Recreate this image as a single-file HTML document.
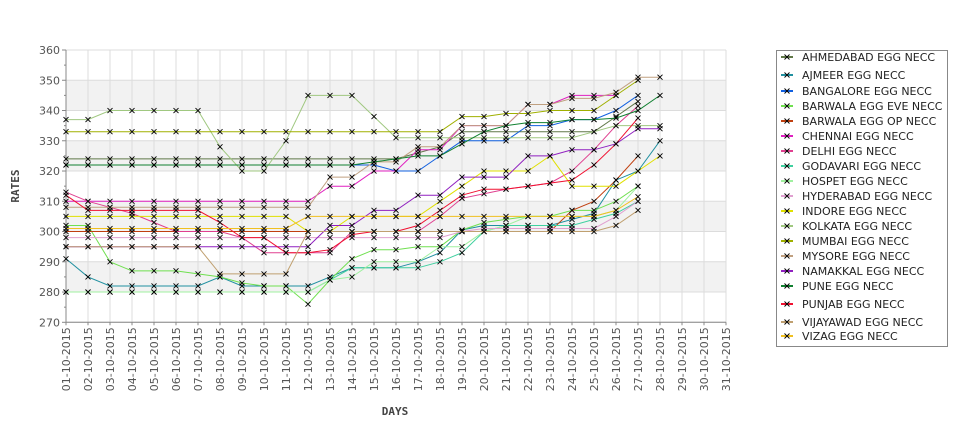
<!DOCTYPE html>
<html><head><meta charset="utf-8"><style>
body{margin:0;background:#fff;}
svg{display:block;font-family:"DejaVu Sans","Liberation Sans",sans-serif;}
</style></head><body>
<svg id="chart" width="975" height="429" viewBox="0 0 975 429"></svg>
<script>
const days = [];
for (let d = 1; d <= 31; d++) days.push((d < 10 ? '0' : '') + d + '-10-2015');
const yTicks = [270,280,290,300,310,320,330,340,350,360];
const seriesNames = ["AHMEDABAD EGG NECC","AJMEER EGG NECC","BANGALORE EGG NECC","BARWALA EGG EVE NECC","BARWALA EGG OP NECC","CHENNAI EGG NECC","DELHI EGG NECC","GODAVARI EGG NECC","HOSPET EGG NECC","HYDERABAD EGG NECC","INDORE EGG NECC","KOLKATA EGG NECC","MUMBAI EGG NECC","MYSORE EGG NECC","NAMAKKAL EGG NECC","PUNE EGG NECC","PUNJAB EGG NECC","VIJAYAWAD EGG NECC","VIZAG EGG NECC"];
const seriesColors = ["#607848","#2090a0","#1060e0","#70e050","#c04010","#e020c0","#e04090","#40d0a0","#a0f0a0","#e0a0d0","#e0e000","#a0c880","#a0b000","#c0a080","#9020c0","#108030","#f01030","#c0a070","#f0c020"];
const ahmedabad = [324,324,324,324,324,324,324,324,324,324,324,324,324,324,324,324,326,328,333,333,333,333,333,333,333,338,343];
const ajmeer = [291,285,282,282,282,282,282,285,282,282,282,282,285,288,288,288,290,293,300.5,302,302,302,302,304,306,317,320,330];
const bangalore = [322,322,322,322,322,322,322,322,322,322,322,322,322,322,322,320,320,325,330,330,330,335,335,337,337,340,345];
const barwalaEve = [302,302,290,287,287,287,286,285,283,282,282,276,284,291,294,294,295,295,300.5,303,304,305,305,307,307,310,315];
const barwalaOp = [300,300,300,300,300,300,300,300,300,300,300,300,300,300,300,300,300,300,300,300,300,300,300,307,310,317,325];
const chennai = [310,310,310,310,310,310,310,310,310,310,310,310,315,315,320,320,327,327,335,335,335,342,342,345,345,345];
const delhi = [313,310,308,306,303,300,300,300,298,293,293,293,293,300,300,300,300,305,311,312.5,314,315,316,320,327,335,341.5];
const godavari = [280,280,280,280,280,280,280,280,280,280,280,280,284,288,288,288,288,290,293,300,302,302,302,302,304,306,310];
const hospet = [280,280,280,280,280,280,280,280,280,280,280,280,284,285,290,290,290,295,295,300,302,305,305,305,305,307,315];
const hyderabad = [298,298,298,298,298,298,298,298,298,298,298,298,298,298,298,298,298,298,300,301,301,301,301,301,301,305,310];
const indore = [305,305,305,305,305,305,305,305,305,305,305,300,300,305,305,305,305,310,315,320,320,320,325,315,315,315,320,325];
const kolkata = [337,337,340,340,340,340,340,328,320,320,330,345,345,345,338,331,331,331,331,331,331,331,331,331,333,335,335,335];
const mumbai = [333,333,333,333,333,333,333,333,333,333,333,333,333,333,333,333,333,333,338,338,339,339,340,340,340,345,350];
const mysore = [308,308,308,308,308,308,308,308,308,308,308,308,318,318,323,323,328,328,335,335,335,342,342,344,344,346,351,351];
const namakkal = [295,295,295,295,295,295,295,295,295,295,295,295,302,302,307,307,312,312,318,318,318,325,325,327,327,329,334,334];
const pune = [322,322,322,322,322,322,322,322,322,322,322,322,322,322,323,324,325,325,329,333,335,336,336,337,337,337.5,340,345];
const punjab = [312,307,307,307,307,307,307,303,298,298,293,293,294,299,300,300,302,307,312,314,314,315,316,317,322,329,337.5];
const vijayawad = [295,295,295,295,295,295,295,286,286,286,286,300,300,300,300,300,300,300,300,300,300,300,300,300,300,302,307];
const vizag = [301,301,301,301,301,301,301,301,301,301,301,305,305,305,305,305,305,305,305,305,305,305,305,305,305,307,311.5];
const seriesValues = [ahmedabad,ajmeer,bangalore,barwalaEve,barwalaOp,chennai,delhi,godavari,hospet,hyderabad,indore,kolkata,mumbai,mysore,namakkal,pune,punjab,vijayawad,vizag];

const NS = 'http://www.w3.org/2000/svg';
const svg = document.getElementById('chart');
const L = 66, R = 726, T = 50, B = 322.3, yMin = 270, yMax = 360;
function xS(i){ return L + (R - L) * i / (days.length - 1); }
function yS(v){ return B - (v - yMin) / (yMax - yMin) * (B - T); }
function mk(tag, attrs, parent){ const e = document.createElementNS(NS, tag); for (const k in attrs) e.setAttribute(k, attrs[k]); (parent||svg).appendChild(e); return e; }

const plot = mk('g', {});


for (let i = 0; i < yTicks.length - 1; i++) {
  if (i % 2 === 1) {
    const band = mk('rect', {x:L, y:yS(yTicks[i+1]), width:R-L, height:yS(yTicks[i])-yS(yTicks[i+1]), fill:'#f2f2f2'}, plot);
    
    
  }
}
yTicks.forEach(v => {
  const g = mk('line', {x1:L, x2:R, y1:yS(v), y2:yS(v), stroke:'#dcdcdc', 'stroke-width':1}, plot);
  
  
});
days.forEach((d, i) => {
  const g = mk('line', {x1:xS(i), x2:xS(i), y1:T, y2:B, stroke:'#dcdcdc', 'stroke-width':1}, plot);
  
  
});
const ya = mk('line', {x1:L, x2:L, y1:T, y2:B, stroke:'#888', 'stroke-width':1});


const xa = mk('line', {x1:L, x2:R, y1:B, y2:B, stroke:'#888', 'stroke-width':1});


yTicks.forEach((v, i) => {
  mk('line', {x1:L-4, x2:L, y1:yS(v), y2:yS(v), stroke:'#888'});
  if (i < yTicks.length - 1) mk('line', {x1:L-2, x2:L, y1:yS(v+5), y2:yS(v+5), stroke:'#888'});
  const t = mk('text', {x:L-6, y:yS(v)+4, 'text-anchor':'end', 'font-size':11, fill:'#555'});
  t.textContent = v;
  
  
});
days.forEach((d, i) => {
  mk('line', {x1:xS(i), x2:xS(i), y1:B, y2:B+3, stroke:'#888'});
  const t = mk('text', {x:0, y:0, 'text-anchor':'end', 'font-size':11, fill:'#555', transform:`translate(${xS(i)+4},${B+5}) rotate(-90)`});
  t.textContent = d;
  
  
});
const xt = mk('text', {x:395, y:415, 'text-anchor':'middle', 'font-size':11, 'font-weight':'bold', fill:'#444', 'font-family':'DejaVu Sans Mono, monospace'});
xt.textContent = 'DAYS';


const yt = mk('text', {x:0, y:0, 'text-anchor':'middle', 'font-size':11, 'font-weight':'bold', fill:'#444', 'font-family':'DejaVu Sans Mono, monospace', transform:'translate(19,186) rotate(-90)'});
yt.textContent = 'RATES';



seriesValues.forEach((vals, si) => {
  const g = mk('g', {});
  
  
  const pts = vals.map((v, i) => xS(i).toFixed(1) + ',' + yS(v).toFixed(1)).join(' ');
  const pl = mk('polyline', {points:pts, fill:'none', stroke:seriesColors[si], 'stroke-width':1}, g);
  
  
  vals.forEach((v, i) => {
    const x = xS(i), y = yS(v);
    const p = mk('path', {d:`M${x-2.5},${y-2.5}L${x+2.5},${y+2.5}M${x-2.5},${y+2.5}L${x+2.5},${y-2.5}`, stroke:'#000', 'stroke-width':0.9}, g);
    
    
  });
});

const lg = mk('g', {});


mk('rect', {x:776.5, y:50.5, width:171, height:296, fill:'#fff', stroke:'#888'}, lg);
const legendY = [57,75,91,106,121,136,151,166,181,196,211,226,241,256,271,286,304,322,336];
seriesNames.forEach((n, i) => {
  const y = legendY[i];
  const e = mk('g', {}, lg);
  
  
  mk('line', {x1:781, x2:793, y1:y, y2:y, stroke:seriesColors[i], 'stroke-width':2}, e);
  mk('path', {d:`M${784.5},${y-2.5}L${789.5},${y+2.5}M${784.5},${y+2.5}L${789.5},${y-2.5}`, stroke:'#000', 'stroke-width':0.9}, e);
  const t = mk('text', {x:802, y:y+4, 'font-size':11, fill:'#222'}, e);
  t.textContent = n;
});
</script>
</body></html>
